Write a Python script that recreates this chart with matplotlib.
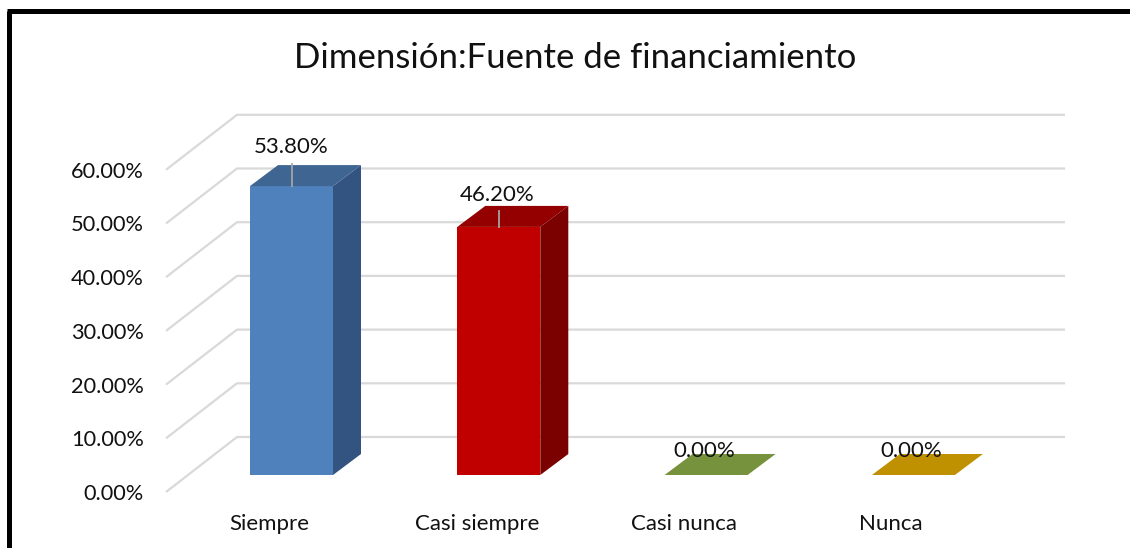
import matplotlib
matplotlib.use('Agg')
import matplotlib.pyplot as plt
from matplotlib.patches import Polygon, Rectangle

categories = ['Siempre', 'Casi siempre', 'Casi nunca', 'Nunca']
values = [53.8, 46.2, 0.0, 0.0]
value_labels = ['53.80%', '46.20%', '0.00%', '0.00%']
ticks = [0, 10, 20, 30, 40, 50, 60]
tick_labels = ['0.00%', '10.00%', '20.00%', '30.00%', '40.00%', '50.00%', '60.00%']
front_colors = ['#4f81bd', '#c00000', '#76923c', '#bf9000']
top_colors = ['#3f6592', '#940000', '#76923c', '#bf9000']
side_colors = ['#335480', '#7b0000', '#5f7530', '#99730a']

W, H = 1130, 548
plt.rcParams['font.family'] = ['Lato', 'DejaVu Sans']

fig = plt.figure(figsize=(W / 100, H / 100), dpi=100)
ax = fig.add_axes([0, 0, 1, 1])

# one category = 207.3 px, one percent = 5.37 px, first bar centre at px 291.5, zero at px 475
px_x = 207.3
px_y = 5.37
ax.set_xlim(-291.5 / px_x, (W - 291.5) / px_x)
ax.set_ylim(-(H - 475) / px_y, 475 / px_y)
ax.axis('off')

bar_w = 83 / px_x
dx = 28 / px_x
dy = 21 / px_y
grid_left = -125.5 / px_x
floor_dx = 71 / px_x
grid_right = (1065 - 291.5) / px_x
front_off = -17 / px_y
back_off = 38 / px_y

# walls of the 3d box
for t in ticks:
    ax.plot([grid_left, grid_left + floor_dx, grid_right],
            [t + front_off, t + back_off, t + back_off],
            color='#d9d9d9', lw=1.6, zorder=1, solid_capstyle='butt')
    ax.text(grid_left - 22 / px_x, t + front_off - 2 / px_y, tick_labels[ticks.index(t)],
            ha='right', va='center', fontsize=15.7, color='#111111')

for i, v in enumerate(values):
    x0 = i - bar_w / 2
    x1 = i + bar_w / 2
    if v > 0:
        ax.add_patch(Rectangle((x0, 0), bar_w, v, fc=front_colors[i], ec='none', zorder=3))
        ax.add_patch(Polygon([(x1, 0), (x1 + dx, dy), (x1 + dx, v + dy), (x1, v)],
                             fc=side_colors[i], ec='none', zorder=3))
    ax.add_patch(Polygon([(x0, v), (x1, v), (x1 + dx, v + dy), (x0 + dx, v + dy)],
                         fc=top_colors[i], ec='none', zorder=3))

    # leader lines and labels sit differently on each bar in the original
    if i == 0:
        ax.plot([i, i], [v, v + 22 / px_y], color='#a6a6a6', lw=1.3, zorder=4)
        ax.text(i, v + 39 / px_y, value_labels[i], ha='center', va='center',
                fontsize=16, color='#111111', zorder=5)
    elif i == 1:
        ax.plot([i, i], [v, v + 16 / px_y], color='#a6a6a6', lw=1.3, zorder=4)
        ax.text(i - 2 / px_x, v + 32 / px_y, value_labels[i], ha='center', va='center',
                fontsize=16, color='#111111', zorder=5)
    else:
        ax.text(i - 2 / px_x, v + 24 / px_y, value_labels[i], ha='center', va='center',
                fontsize=16, color='#111111', zorder=5)

cat_x = [-22 / px_x, 1 - 22 / px_x, 2 - 22 / px_x, 3 - 23 / px_x]
for x, c in zip(cat_x, categories):
    ax.text(x, -49 / px_y, c, ha='center', va='center', fontsize=16, color='#111111')

ax.text((575 - 291.5) / px_x, (475 - 58) / px_y, 'Dimensión:Fuente de financiamiento',
        ha='center', va='center', fontsize=25, color='#111111')

# black frame, only left and top reach the picture
ax.plot([8.5 / px_x - 291.5 / px_x] * 2, [-(H - 475) / px_y, (475 - 11) / px_y], color='black', lw=3.6,
        solid_capstyle='butt')
ax.plot([6.5 / px_x - 291.5 / px_x, (W - 291.5) / px_x], [(475 - 11) / px_y] * 2, color='black', lw=3.6,
        solid_capstyle='butt')

fig.savefig('out.png', dpi=100)
